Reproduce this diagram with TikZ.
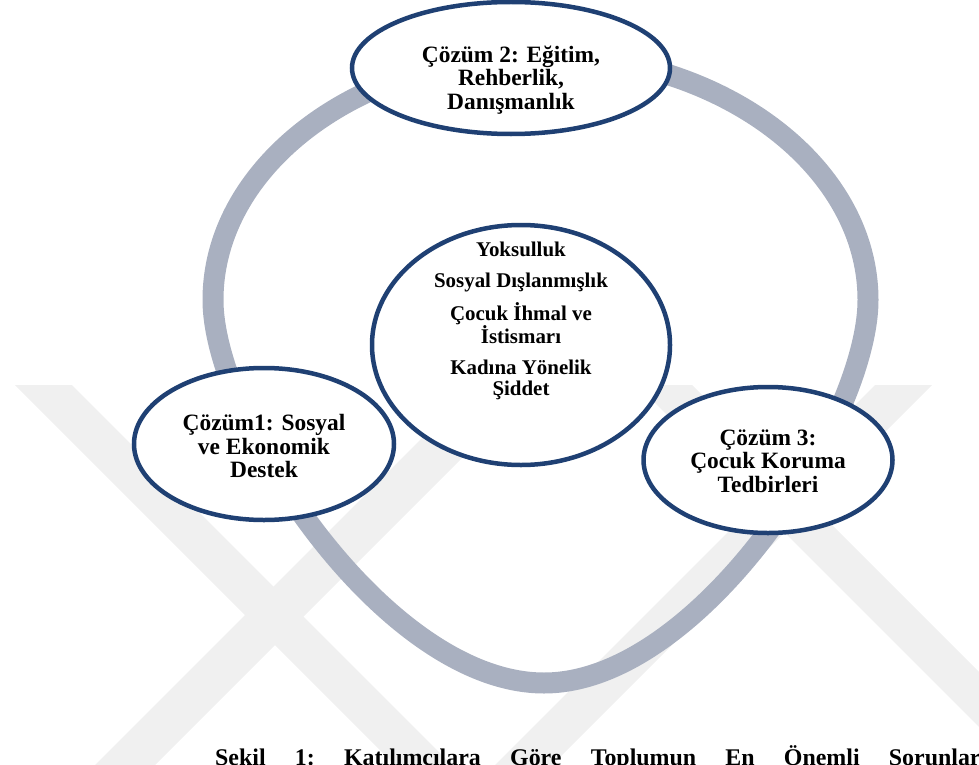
\documentclass[tikz,border=0pt]{standalone}
\usepackage{fontspec}
\setmainfont{Liberation Serif}
\usetikzlibrary{shapes}

\definecolor{halka}{HTML}{A9B0C0}
\definecolor{kenar}{HTML}{1F4073}
\definecolor{filigran}{HTML}{F0F0F0}

\begin{document}
\begin{tikzpicture}[x=1bp, y=-1bp,
  kab/.style={ellipse, draw=kenar, line width=4.5bp, fill=white, inner sep=0pt},
  yazi/.style={align=center, inner sep=0pt, font=\bfseries\fontsize{23.5}{23.5}\selectfont},
  orta/.style={align=center, inner sep=0pt, font=\bfseries\fontsize{21}{21.5}\selectfont},
  altyazi/.style={inner sep=0pt, font=\bfseries\fontsize{24}{26}\selectfont}]
\useasboundingbox (0,0) rectangle (979,765);
\begin{scope}
\clip (0,0) rectangle (979,765);

% filigran
\fill[filigran] (15,385) -- (72,385) -- (452,765) -- (395,765) -- cycle;
\fill[filigran] (95,765) -- (155,765) -- (535,385) -- (475,385) -- cycle;
\fill[filigran] (495,765) -- (552,765) -- (932,385) -- (875,385) -- cycle;
\fill[filigran] (637,385) -- (692,385) -- (1072,765) -- (1017,765) -- cycle;

% halka
\draw[halka, line width=21bp] (213,300) .. controls (213,165) and (360,55) .. (540,55)
  .. controls (720,55) and (868,165) .. (868,300)
  .. controls (868,420) and (700,683) .. (544,683)
  .. controls (385,683) and (213,420) .. cycle;

% kabarcıklar
\node[kab, minimum width=318bp, minimum height=132bp] (cozum2) at (511,68) {};
\node[kab, minimum width=298bp, minimum height=240bp] (sorun) at (521,345) {};
\node[kab, minimum width=260bp, minimum height=152bp] (cozum1) at (264,444) {};
\node[kab, minimum width=249bp, minimum height=146bp] (cozum3) at (768,460) {};

% yazılar
\node[yazi] (cozum2yazi) at (511,80) {Çözüm 2: Eğitim,\\Rehberlik,\\Danışmanlık};
\node[orta] (sorunyazi) at (521,321) {Yoksulluk\\[9.5bp]Sosyal Dışlanmışlık\\[9.5bp]Çocuk İhmal ve\\İstismarı\\[9.5bp]Kadına Yönelik\\Şiddet};
\node[yazi] (cozum1yazi) at (264,446) {Çözüm1: Sosyal\\ve Ekonomik\\Destek};
\node[yazi] (cozum3yazi) at (768,461) {Çözüm 3:\\Çocuk Koruma\\Tedbirleri};

% başlık
\node[altyazi, anchor=base west] (baslik) at (215,765)
  {\frenchspacing\makebox[772bp][s]{Şekil 1: Katılımcılara Göre Toplumun En Önemli Sorunları}};
\end{scope}
\end{tikzpicture}
\end{document}
